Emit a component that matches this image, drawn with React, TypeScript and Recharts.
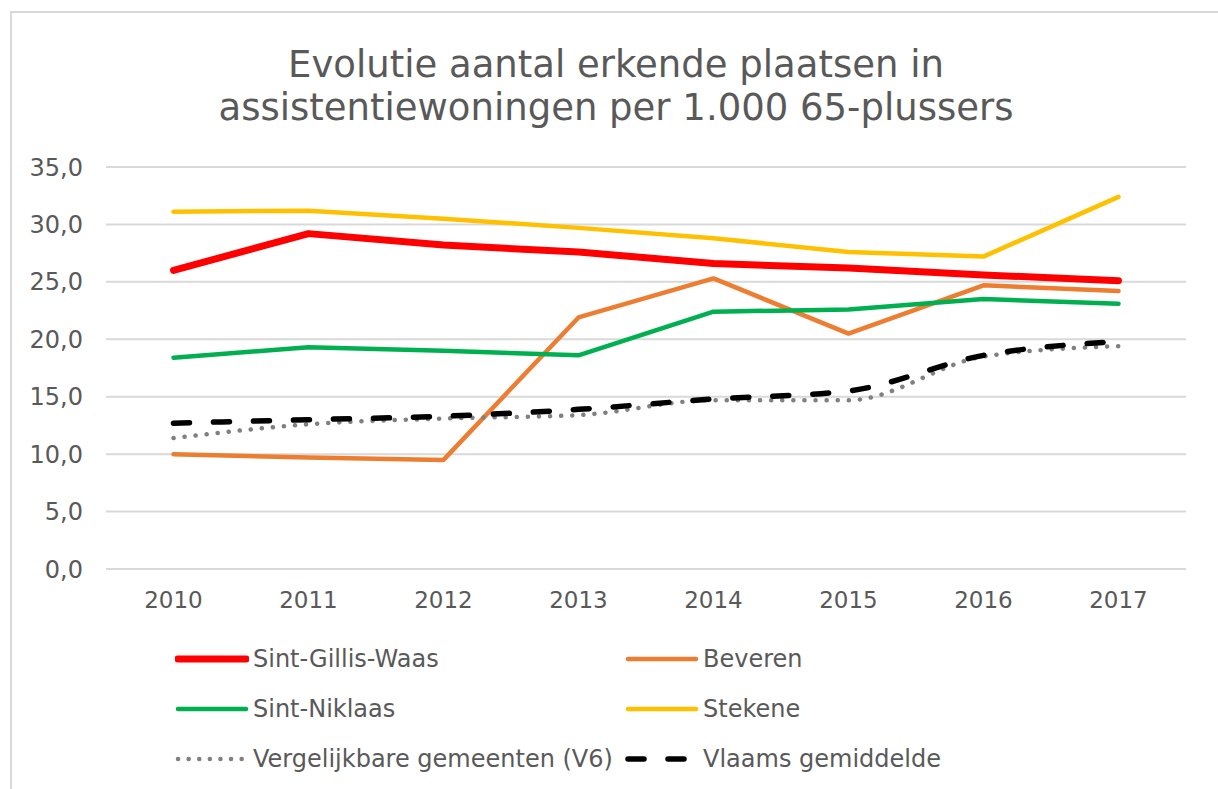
import React from 'react';
import { LineChart, Line, XAxis, YAxis, CartesianGrid, Legend } from 'recharts';

const years = ['2010', '2011', '2012', '2013', '2014', '2015', '2016', '2017'];
const sintGillisWaas = [26.0, 29.2, 28.2, 27.6, 26.6, 26.2, 25.6, 25.1];
const beveren = [10.0, 9.7, 9.5, 21.9, 25.3, 20.5, 24.7, 24.2];
const sintNiklaas = [18.4, 19.3, 19.0, 18.6, 22.4, 22.6, 23.5, 23.1];
const stekene = [31.1, 31.2, 30.5, 29.7, 28.8, 27.6, 27.2, 32.4];
const v6 = [11.4, 12.6, 13.1, 13.4, 14.7, 14.7, 18.5, 19.4];
const vlaams = [12.7, 13.0, 13.3, 13.9, 14.8, 15.5, 18.6, 19.8];
const yTicks = [0, 5, 10, 15, 20, 25, 30, 35];

const seriesDefs = [
  { key: 'sgw', name: 'Sint-Gillis-Waas', values: sintGillisWaas, color: '#FF0000', width: 7, dash: undefined as string | undefined, type: 'linear', legendDash: undefined as string | undefined },
  { key: 'bev', name: 'Beveren', values: beveren, color: '#ED7D31', width: 4.5, dash: undefined, type: 'linear', legendDash: undefined },
  { key: 'sn', name: 'Sint-Niklaas', values: sintNiklaas, color: '#00B050', width: 4.5, dash: undefined, type: 'linear', legendDash: undefined },
  { key: 'ste', name: 'Stekene', values: stekene, color: '#FFC000', width: 4.5, dash: undefined, type: 'linear', legendDash: undefined },
  { key: 'v6', name: 'Vergelijkbare gemeenten (V6)', values: v6, color: '#808080', width: 4.5, dash: '0.1 11', type: 'monotone', legendDash: '0.1 10.5' },
  { key: 'vl', name: 'Vlaams gemiddelde', values: vlaams, color: '#000000', width: 5.5, dash: '16 24', type: 'monotone', legendDash: '16 24' },
];

const data = years.map((y, i) => {
  const row: Record<string, any> = { year: y };
  seriesDefs.forEach((s) => { row[s.key] = s.values[i]; });
  return row;
});

const FONT = '"DejaVu Sans", Verdana, sans-serif';
const TEXT = '#595959';

const renderLegend = (props: any) => {
  const payload = [...(props.payload || [])].sort(
    (a: any, b: any) => seriesDefs.findIndex((s) => s.name === a.value) - seriesDefs.findIndex((s) => s.name === b.value)
  );
  return (
    <div style={{ position: 'relative', width: 1218, height: 150, fontFamily: FONT }}>
      {payload.map((entry: any, i: number) => {
        const def = seriesDefs.find((s) => s.name === entry.value) || seriesDefs[i];
        const col = i % 2;
        const row = Math.floor(i / 2);
        const left = col === 0 ? 175 : 625;
        const top = row * 50;
        return (
          <div key={def.key} style={{ position: 'absolute', left, top, height: 40, display: 'flex', alignItems: 'center' }}>
            <svg width={74} height={20} style={{ display: 'block' }}>
              <line x1={3} y1={10} x2={71} y2={10} stroke={def.color} strokeWidth={def.width} strokeLinecap="round" strokeDasharray={def.legendDash} />
            </svg>
            <span style={{ marginLeft: 4, fontSize: 24, color: TEXT, whiteSpace: 'nowrap' }}>{entry.value}</span>
          </div>
        );
      })}
    </div>
  );
};

export default function App() {
  return (
    <div style={{ position: 'absolute', left: 0, top: 0, width: 1218, height: 789, background: '#fff', overflow: 'hidden' }}>
      <div style={{ position: 'absolute', left: 10, top: 11, width: 1220, height: 790, border: '2px solid #D9D9D9', boxSizing: 'border-box' }} />
      <div style={{ position: 'absolute', left: 0, top: 43, width: 1232, textAlign: 'center', fontFamily: FONT, fontSize: 37, lineHeight: '43px', color: TEXT }}>
        Evolutie aantal erkende plaatsen in<br />assistentiewoningen per 1.000 65-plussers
      </div>
      <div style={{ position: 'absolute', left: 0, top: 0 }}>
        <LineChart width={1218} height={789} data={data} margin={{ top: 167, right: 32, bottom: 0, left: 0 }}>
          <CartesianGrid vertical={false} stroke="#D9D9D9" strokeWidth={2} />
          <XAxis dataKey="year" height={220} axisLine={false} tickLine={false} tickSize={0} tickMargin={23}
            padding={{ left: 67.5, right: 67.5 }}
            tick={{ fill: TEXT, fontSize: 23, fontFamily: FONT }} interval={0} />
          <YAxis width={106} domain={[0, 35]} ticks={yTicks} axisLine={false} tickLine={false} tickSize={0} tickMargin={23}
            tickFormatter={(v: number) => v.toFixed(1).replace('.', ',')}
            tick={{ fill: TEXT, fontSize: 24, fontFamily: FONT }} />
          <Legend verticalAlign="middle" align="center" layout="horizontal" content={renderLegend}
            wrapperStyle={{ position: 'absolute', top: 639, left: 0, width: 1218, height: 150 }} />
          {seriesDefs.map((s) => (
            <Line key={s.key} dataKey={s.key} name={s.name} type={s.type as any} stroke={s.color} strokeWidth={s.width}
              strokeDasharray={s.dash} strokeLinecap="round" strokeLinejoin="round" dot={false} activeDot={false}
              isAnimationActive={false} />
          ))}
        </LineChart>
      </div>
    </div>
  );
}
